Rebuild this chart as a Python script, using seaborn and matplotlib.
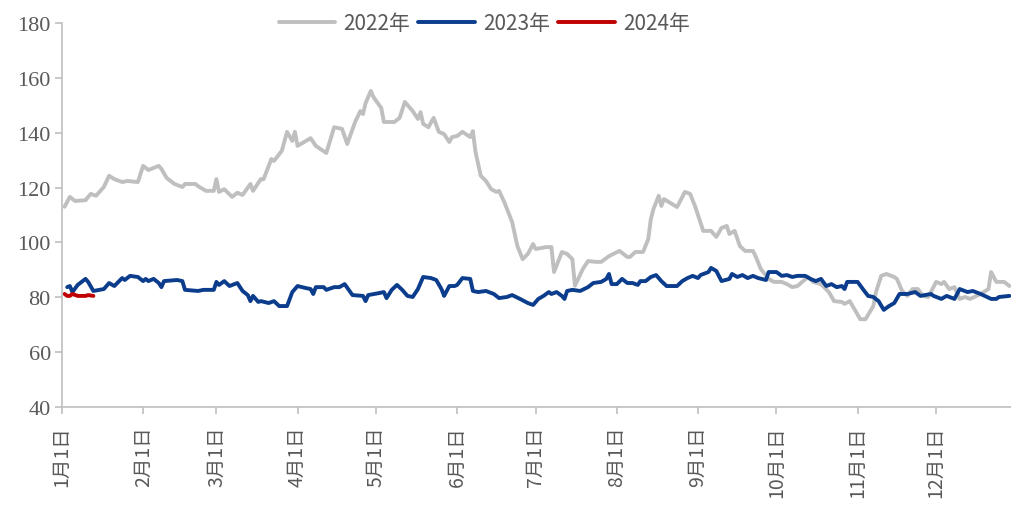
import pandas as pd
import matplotlib
matplotlib.use('Agg')
import matplotlib.pyplot as plt
import seaborn as sns

# day of year -> price
days_2022 = [1, 3, 5, 9, 11, 13, 16, 18, 20, 23, 25, 29, 31, 33, 37, 38, 40, 43, 46, 47, 51, 52, 55, 58,
             59, 60, 62, 65, 67, 69, 72, 73, 76, 77, 80, 81, 84, 86, 88, 89, 90, 95, 97, 101, 104, 107,
             109, 112, 114, 115, 116, 118, 119, 122, 123, 127, 129, 131, 134, 136, 137, 138, 140, 142,
             144, 146, 148, 149, 151, 153, 156, 157, 158, 160, 162, 164, 166, 167, 169, 172, 174, 176,
             178, 180, 181, 185, 187, 188, 191, 193, 195, 196, 199, 201, 204, 206, 209, 213, 216, 217,
             219, 222, 224, 225, 226, 228, 229, 230, 235, 236, 238, 240, 242, 245, 248, 250, 252, 254,
             255, 257, 259, 261, 264, 265, 267, 270, 272, 275, 277, 279, 281, 285, 287, 290, 293, 295,
             298, 299, 301, 305, 307, 310, 311, 313, 315, 318, 319, 321, 323, 325, 327, 329, 331, 334,
             336, 337, 339, 341, 343, 345, 347, 351, 354, 355, 357, 360, 362]
vals_2022 = [113.0, 116.6, 115.1, 115.4, 117.7, 117.0, 120.2, 124.3, 123.1, 122.0, 122.4, 122.0, 127.9,
             126.4, 127.9, 126.8, 123.5, 121.3, 120.2, 121.3, 121.3, 120.5, 118.8, 118.8, 123.1, 118.4,
             119.4, 116.6, 118.1, 117.3, 121.3, 118.8, 123.1, 123.0, 130.4, 129.7, 133.4, 140.3, 137.0,
             140.3, 135.2, 138.0, 135.2, 132.6, 142.0, 141.4, 135.9, 143.9, 147.9, 146.8, 150.8, 155.2,
             153.0, 149.0, 143.9, 143.9, 145.4, 151.2, 147.9, 145.0, 147.5, 143.2, 142.0, 145.4, 140.3,
             139.5, 136.6, 138.4, 138.8, 140.3, 138.4, 140.6, 133.0, 124.3, 122.4, 119.4, 118.4, 118.8,
             114.7, 107.4, 98.7, 93.9, 95.8, 99.4, 97.6, 98.3, 98.3, 89.2, 96.5, 95.8, 93.9, 84.2, 90.3,
             93.2, 92.9, 92.9, 95.0, 96.9, 94.7, 94.7, 96.5, 96.5, 101.2, 108.5, 112.2, 117.0, 113.3,
             115.8, 112.9, 114.7, 118.4, 117.7, 112.9, 104.2, 104.2, 102.0, 105.3, 106.0, 103.1, 104.2,
             98.7, 96.9, 96.9, 95.0, 90.3, 86.7, 85.6, 85.6, 84.8, 83.7, 84.1, 87.4, 85.6, 84.8, 81.9,
             78.6, 78.3, 77.6, 78.6, 72.0, 72.0, 76.8, 81.9, 87.8, 88.5, 87.4, 86.7, 82.3, 80.5, 83.0,
             83.0, 80.5, 80.1, 85.6, 84.8, 85.6, 83.0, 83.7, 79.4, 80.1, 79.4, 81.2, 83.0, 89.2, 85.6,
             85.6, 84.1]

days_2023 = [2, 3, 4, 6, 9, 10, 12, 16, 18, 20, 23, 24, 26, 29, 31, 32, 33, 35, 37, 38, 39, 44, 46, 47,
             52, 54, 58, 59, 60, 62, 64, 67, 69, 71, 72, 73, 75, 76, 79, 81, 83, 86, 88, 90, 93, 95, 96,
             97, 100, 101, 104, 106, 108, 111, 115, 116, 117, 121, 123, 124, 126, 128, 130, 132, 134, 136,
             138, 141, 143, 145, 146, 148, 150, 151, 153, 156, 157, 159, 162, 165, 167, 170, 172, 175, 178,
             180, 182, 184, 186, 187, 189, 191, 192, 193, 195, 198, 201, 203, 206, 208, 209, 210, 212, 214,
             216, 218, 220, 221, 223, 225, 227, 229, 231, 235, 237, 239, 241, 243, 244, 247, 248, 250, 252,
             255, 256, 258, 260, 262, 264, 266, 269, 270, 273, 275, 277, 279, 281, 284, 286, 288, 290, 292,
             294, 296, 298, 299, 300, 304, 306, 308, 310, 312, 314, 316, 318, 320, 323, 326, 328, 332, 333,
             336, 338, 341, 343, 346, 348, 351, 355, 357, 358, 362]
vals_2023 = [83.7, 84.1, 81.9, 84.5, 86.7, 85.6, 82.3, 83.0, 85.2, 84.1, 87.0, 86.3, 87.8, 87.4, 85.9,
             86.7, 85.9, 86.7, 85.2, 83.7, 85.9, 86.3, 85.9, 82.7, 82.3, 82.7, 82.7, 85.6, 84.5, 85.9,
             84.1, 85.2, 82.3, 80.8, 78.6, 80.5, 78.3, 78.6, 77.9, 78.6, 76.8, 76.8, 81.9, 84.1, 83.4,
             83.0, 81.2, 83.7, 83.7, 82.7, 83.7, 83.7, 84.8, 80.8, 80.5, 78.6, 80.8, 81.5, 81.9, 79.7,
             82.7, 84.5, 82.7, 80.5, 80.1, 83.0, 87.4, 87.0, 86.3, 83.0, 80.5, 84.1, 84.1, 84.5, 87.0,
             86.7, 82.3, 81.9, 82.3, 81.2, 79.7, 80.1, 80.8, 79.4, 77.9, 77.2, 79.4, 80.5, 81.9, 81.2,
             81.9, 80.5, 79.4, 82.3, 82.7, 82.3, 83.7, 85.2, 85.6, 86.7, 88.5, 84.8, 84.8, 86.7, 85.2,
             85.2, 84.5, 85.9, 85.9, 87.4, 88.1, 85.9, 84.1, 84.1, 85.9, 87.0, 87.8, 87.0, 88.1, 89.2,
             90.7, 89.6, 85.9, 86.7, 88.5, 87.4, 88.1, 87.0, 87.8, 87.0, 86.3, 89.2, 89.2, 87.8, 88.1,
             87.4, 87.8, 87.8, 86.7, 85.9, 86.7, 84.1, 84.8, 83.7, 84.1, 83.0, 85.6, 85.6, 83.0, 80.5,
             80.1, 78.6, 75.4, 76.8, 77.9, 81.2, 81.2, 81.9, 80.5, 81.2, 80.5, 79.4, 80.5, 79.4, 83.0,
             81.9, 82.3, 81.2, 79.4, 79.4, 80.1, 80.5]

days_2024 = [1, 2, 3, 4, 6, 9, 10, 12]
vals_2024 = [81.2, 80.5, 80.5, 81.2, 80.5, 80.5, 80.8, 80.5]

years = ['2022年', '2023年', '2024年']
colors = ['#BFBFBF', '#0B3D8C', '#C00000']

month_starts = [0, 31, 59, 90, 120, 151, 181, 212, 243, 273, 304, 334]
month_labels = [f'{m}月1日' for m in range(1, 13)]

df = pd.concat([
    pd.DataFrame({'day': days_2022, 'price': vals_2022, 'year': years[0]}),
    pd.DataFrame({'day': days_2023, 'price': vals_2023, 'year': years[1]}),
    pd.DataFrame({'day': days_2024, 'price': vals_2024, 'year': years[2]}),
])

sns.set_style('white')
plt.rcParams['font.family'] = ['Noto Sans CJK SC', 'DejaVu Sans']

fig = plt.figure(figsize=(10.11, 5.06), dpi=100)
ax = fig.add_axes([0.0613, 0.1937, 0.9387, 0.7589])

sns.lineplot(data=df, x='day', y='price', hue='year', hue_order=years,
             palette=colors, linewidth=2.8, ax=ax, estimator=None, sort=True)

ax.set_xlim(0, 362.6)
ax.set_ylim(40, 180)
ax.set_yticks(range(40, 181, 20))
ax.set_yticklabels([str(v) for v in range(40, 181, 20)],
                   family=['Liberation Serif', 'DejaVu Serif'], fontsize=16, color='#595959')
ax.set_xticks(month_starts)
ax.set_xticklabels(month_labels, rotation=90, fontsize=14, color='#595959')
ax.set_xlabel('')
ax.set_ylabel('')

for side in ['top', 'right']:
    ax.spines[side].set_visible(False)
for side in ['left', 'bottom']:
    ax.spines[side].set_color('#BFBFBF')
    ax.spines[side].set_linewidth(1.2)
ax.tick_params(axis='both', which='major', length=5, width=1.2, color='#BFBFBF',
               left=True, bottom=True)
ax.tick_params(axis='y', pad=3)
ax.tick_params(axis='x', pad=8)

handles, labels = ax.get_legend_handles_labels()
ax.legend(handles, labels, loc='center', bbox_to_anchor=(0.445, 1.0), ncol=3, frameon=False,
          fontsize=15, labelcolor='#595959', handlelength=2.7, handletextpad=0.4,
          columnspacing=0.4)

fig.savefig('out.png', dpi=100)
